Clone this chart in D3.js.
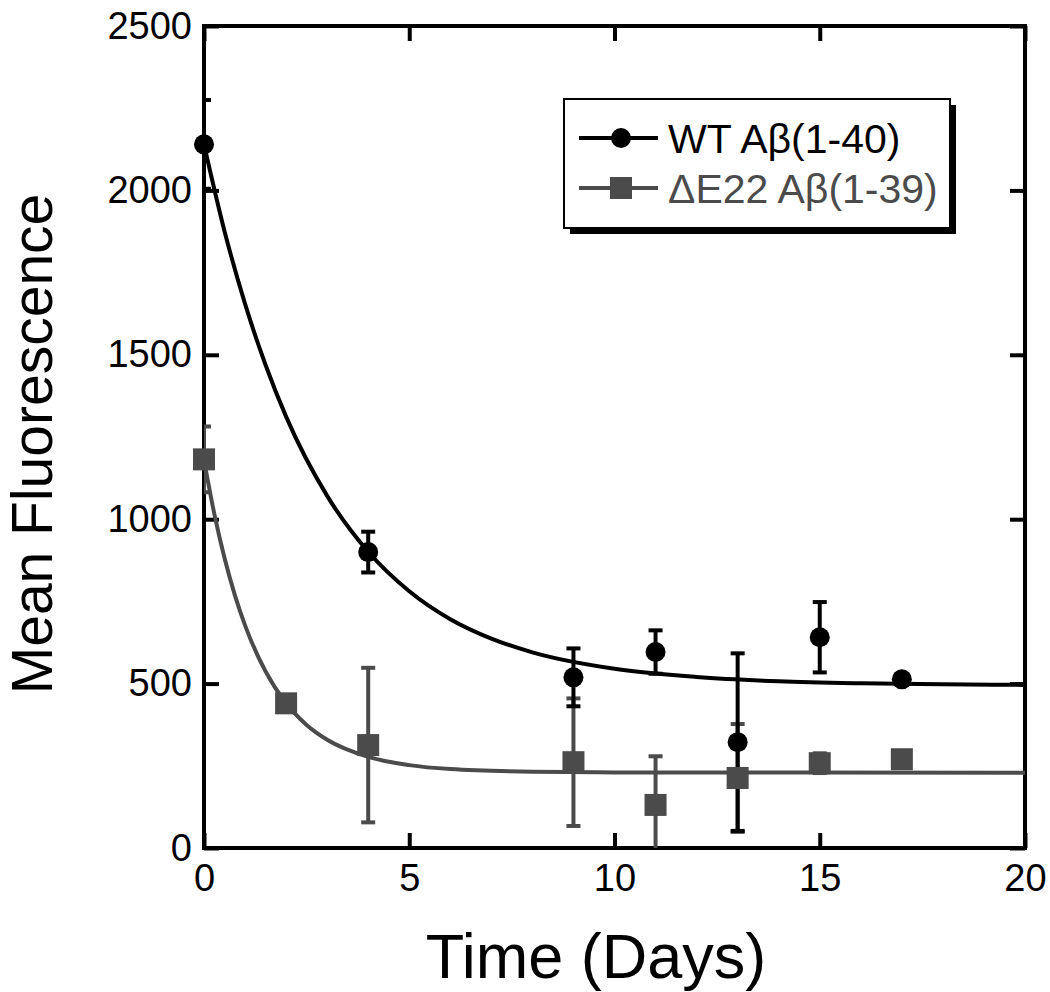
<!DOCTYPE html>
<html><head><meta charset="utf-8">
<script src="https://cdn.jsdelivr.net/npm/d3@7"></script>
<style>body{margin:0;background:#fff;} text{font-family:"Liberation Sans",Arial,Helvetica,sans-serif;}</style>
</head><body><svg id="chart" width="1050" height="992"></svg>
<script>
// Data
const wtDays = [0, 4, 9, 11, 13, 15, 17];
const wtMean = [2140, 900, 519, 596, 322, 641, 513];
const wtErr  = [135, 62, 88, 66, 270, 107, 15];

const dDays = [0, 2, 4, 9, 11, 13, 15, 17];
const dMean = [1182, 440, 313, 261, 131, 213, 258, 270];
const dErr  = [100, 10, 235, 194, 148, 164, 30, 0];

// Fitted curves, points
const wtFitDays = [0, 0.5, 1, 1.5, 2, 3, 4, 5, 6, 7, 8, 10, 12, 14, 16, 18, 20];
const wtFitVals = [2140, 1876, 1655, 1469, 1312, 1071, 901, 781, 696, 637, 595, 545, 520, 507, 501, 498, 496];
const dFitDays = [0, 0.25, 0.5, 0.75, 1, 1.5, 2, 2.5, 3, 4, 5, 6, 8, 10, 20];
const dFitVals = [1180, 1017, 882, 770, 677, 537, 440, 374, 329, 277, 252, 240, 232, 230, 229];

const xTicks = [0, 5, 10, 15, 20];
const yTicks = [0, 500, 1000, 1500, 2000, 2500];
const seriesNames = ["WT A\u03B2(1-40)", "\u0394E22 A\u03B2(1-39)"];
const xTitle = "Time (Days)";
const yTitle = "Mean Fluorescence";

const colWT = "#000000", colD = "#4b4b4b";

const svg = d3.select("#chart");
const m = {left: 204, top: 26, right: 25, bottom: 144};
const W = 1050 - m.left - m.right, H = 992 - m.top - m.bottom;
const g = svg.append("g").attr("transform", `translate(${m.left},${m.top})`);

const x = d3.scaleLinear().domain([0, 20]).range([0, W]);
const y = d3.scaleLinear().domain([0, 2500]).range([H, 0]);

svg.append("defs").append("clipPath").attr("id", "clip")
  .append("rect").attr("x", 0).attr("y", 0).attr("width", W).attr("height", H);

// axes
function styleAxis(sel) {
  sel.select(".domain").remove();
  sel.selectAll(".tick line").attr("stroke", "#000").attr("stroke-width", 4);
  sel.selectAll(".tick text").attr("fill", "#000").style("font-size", "38px")
     .style("font-family", '"Liberation Sans", Arial, sans-serif');
}
g.append("g").attr("transform", `translate(0,${H})`)
  .call(d3.axisBottom(x).tickValues(xTicks).tickSize(-15).tickPadding(16).tickFormat(d3.format("d")))
  .call(styleAxis);
g.append("g")
  .call(d3.axisTop(x).tickValues(xTicks).tickSize(-15).tickFormat(""))
  .call(styleAxis);
g.append("g")
  .call(d3.axisLeft(y).tickValues(yTicks).tickSize(-15).tickPadding(12).tickFormat(d3.format("d")))
  .call(styleAxis);
g.append("g").attr("transform", `translate(${W},0)`)
  .call(d3.axisRight(y).tickValues(yTicks).tickSize(-15).tickFormat(""))
  .call(styleAxis);

// frame
g.append("rect").attr("x", 0).attr("y", 0).attr("width", W).attr("height", H)
  .attr("fill", "none").attr("stroke", "#000").attr("stroke-width", 4);

// fit curves
const line = d3.line().x(d => x(d[0])).y(d => y(d[1])).curve(d3.curveMonotoneX);
const plot = g.append("g").attr("clip-path", "url(#clip)");
plot.append("path").datum(dFitDays.map((d, i) => [d, dFitVals[i]]))
  .attr("d", line).attr("fill", "none").attr("stroke", colD).attr("stroke-width", 4);
plot.append("path").datum(wtFitDays.map((d, i) => [d, wtFitVals[i]]))
  .attr("d", line).attr("fill", "none").attr("stroke", colWT).attr("stroke-width", 4);

// error bars
function errBars(days, mean, err, col) {
  const data = days.map((d, i) => ({d, v: mean[i], e: err[i]})).filter(o => o.e > 0);
  const eg = plot.append("g").attr("stroke", col).attr("stroke-width", 4);
  eg.selectAll("line.v").data(data).join("line").attr("class", "v")
    .attr("x1", o => x(o.d)).attr("x2", o => x(o.d))
    .attr("y1", o => y(o.v - o.e)).attr("y2", o => y(o.v + o.e));
  eg.selectAll("line.t").data(data).join("line").attr("class", "t")
    .attr("x1", o => x(o.d) - 7).attr("x2", o => x(o.d) + 7)
    .attr("y1", o => y(o.v + o.e)).attr("y2", o => y(o.v + o.e));
  eg.selectAll("line.b").data(data).join("line").attr("class", "b")
    .attr("x1", o => x(o.d) - 7).attr("x2", o => x(o.d) + 7)
    .attr("y1", o => y(o.v - o.e)).attr("y2", o => y(o.v - o.e));
}
errBars(dDays, dMean, dErr, colD);
errBars(wtDays, wtMean, wtErr, colWT);

// markers
g.append("g").selectAll("rect").data(dDays.map((d, i) => [d, dMean[i]])).join("rect")
  .attr("x", d => x(d[0]) - 11).attr("y", d => y(d[1]) - 11)
  .attr("width", 22).attr("height", 22).attr("fill", colD);
g.append("g").selectAll("circle").data(wtDays.map((d, i) => [d, wtMean[i]])).join("circle")
  .attr("cx", d => x(d[0])).attr("cy", d => y(d[1])).attr("r", 10).attr("fill", colWT);

// legend
const lg = svg.append("g").attr("transform", "translate(564,99)");
lg.append("rect").attr("x", 6).attr("y", 6).attr("width", 386).attr("height", 129).attr("fill", "#000");
lg.append("rect").attr("x", 0).attr("y", 0).attr("width", 386).attr("height", 129)
  .attr("fill", "#fff").attr("stroke", "#000").attr("stroke-width", 2);
const items = [{name: seriesNames[0], col: colWT, sym: "c", yy: 39}, {name: seriesNames[1], col: colD, sym: "s", yy: 89}];
items.forEach(it => {
  lg.append("line").attr("x1", 15).attr("x2", 94).attr("y1", it.yy).attr("y2", it.yy)
    .attr("stroke", it.col).attr("stroke-width", 4);
  if (it.sym === "c") lg.append("circle").attr("cx", 57).attr("cy", it.yy).attr("r", 10).attr("fill", it.col);
  else lg.append("rect").attr("x", 46).attr("y", it.yy - 11).attr("width", 22).attr("height", 22).attr("fill", it.col);
  lg.append("text").attr("x", 104).attr("y", it.yy).attr("dy", "0.36em")
    .attr("fill", it.col).style("font-size", "41px").text(it.name);
});

// titles
svg.append("text").attr("x", 596).attr("y", 978).attr("text-anchor", "middle")
  .style("font-size", "63px").attr("fill", "#000").text(xTitle);
svg.append("text").attr("transform", `translate(52,444) rotate(-90)`)
  .attr("text-anchor", "middle").style("font-size", "57px").attr("fill", "#000").text(yTitle);
</script></body></html>
